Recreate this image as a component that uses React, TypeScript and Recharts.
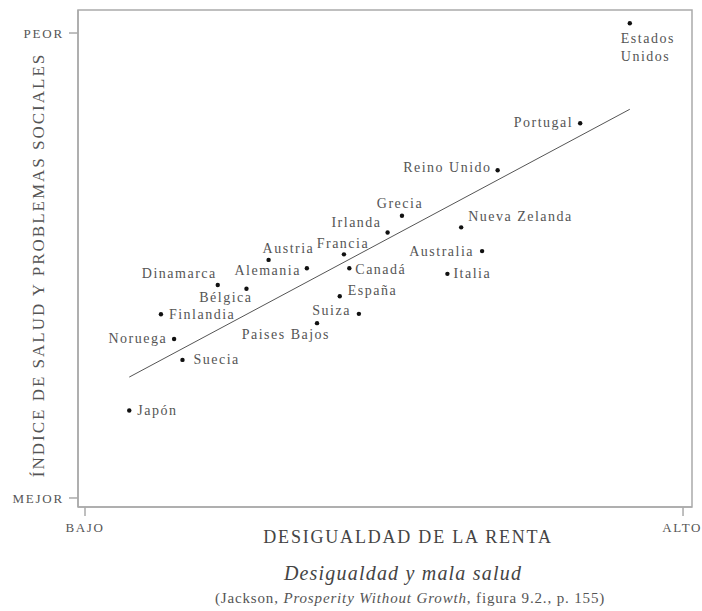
import React from 'react';
import { ScatterChart, Scatter, XAxis, YAxis, ReferenceLine, ReferenceArea } from 'recharts';

// ---- Data ----
const countries = [
  'Japón', 'Suecia', 'Noruega', 'Finlandia', 'Dinamarca', 'Bélgica', 'Austria', 'Alemania',
  'Paises Bajos', 'España', 'Francia', 'Canadá', 'Suiza', 'Irlanda', 'Grecia', 'Italia',
  'Nueva Zelanda', 'Australia', 'Reino Unido', 'Portugal', 'Estados Unidos',
];
const incomeInequality = [
  7.4, 16.3, 14.9, 12.7, 22.2, 27.0, 30.7, 37.1,
  38.8, 42.6, 43.3, 44.2, 45.8, 50.6, 53.0, 60.6,
  62.9, 66.4, 69.0, 82.8, 91.1,
];
const healthSocialIndex = [
  18.8, 29.7, 34.2, 39.5, 45.8, 45.0, 51.2, 49.4,
  37.6, 43.4, 52.4, 49.4, 39.6, 57.1, 60.7, 48.2,
  58.2, 53.1, 70.5, 80.6, 102.1,
];
const trendStart = { x: 7.4, y: 26.0 };
const trendEnd = { x: 91.1, y: 83.6 };
const xTickValues = [0, 100];
const xTickLabels = ['BAJO', 'ALTO'];
const yTickValues = [0, 100];
const yTickLabels = ['MEJOR', 'PEOR'];

const data = countries.map((name, i) => ({ name, x: incomeInequality[i], y: healthSocialIndex[i] }));

// ---- Label placement (styling) ----
type Place = { dx: number; dy: number; anchor: 'start' | 'middle' | 'end' };
const labelPlace: Record<string, Place> = {
  'Japón': { dx: 8, dy: 0, anchor: 'start' },
  'Suecia': { dx: 11, dy: 0, anchor: 'start' },
  'Noruega': { dx: -7, dy: 0, anchor: 'end' },
  'Finlandia': { dx: 8, dy: 0, anchor: 'start' },
  'Dinamarca': { dx: -1, dy: -12, anchor: 'end' },
  'Bélgica': { dx: 6, dy: 9, anchor: 'end' },
  'Austria': { dx: -6, dy: -11, anchor: 'start' },
  'Alemania': { dx: -6, dy: 2, anchor: 'end' },
  'Paises Bajos': { dx: 13, dy: 11, anchor: 'end' },
  'España': { dx: 8, dy: -6, anchor: 'start' },
  'Francia': { dx: -1, dy: -11, anchor: 'middle' },
  'Canadá': { dx: 6, dy: 1, anchor: 'start' },
  'Suiza': { dx: -8, dy: -3, anchor: 'end' },
  'Irlanda': { dx: -6, dy: -10, anchor: 'end' },
  'Grecia': { dx: -2, dy: -12, anchor: 'middle' },
  'Italia': { dx: 6, dy: 0, anchor: 'start' },
  'Nueva Zelanda': { dx: 7, dy: -11, anchor: 'start' },
  'Australia': { dx: -8, dy: 0, anchor: 'end' },
  'Reino Unido': { dx: -6, dy: -3, anchor: 'end' },
  'Portugal': { dx: -7, dy: -1, anchor: 'end' },
  'Estados Unidos': { dx: -9, dy: 15, anchor: 'start' },
};

const FONT = '"Liberation Serif", "Times New Roman", serif';
const TEXT = '#555';

const PointShape = (props: any) => {
  const { cx, cy, payload } = props;
  const p = labelPlace[payload.name] || { dx: 6, dy: 0, anchor: 'start' };
  const words = payload.name === 'Estados Unidos' ? ['Estados', 'Unidos'] : [payload.name];
  return (
    <g>
      <circle cx={cx} cy={cy} r={2.2} fill="#111" />
      {words.map((w: string, i: number) => (
        <text
          key={i}
          x={cx + p.dx}
          y={cy + p.dy + i * 18}
          textAnchor={p.anchor}
          dominantBaseline="central"
          fontFamily={FONT}
          fontSize={14}
          letterSpacing={1.5}
          fill={TEXT}
        >
          {w}
        </text>
      ))}
    </g>
  );
};

const X_DOMAIN: [number, number] = [-1.17, 101.5];
const Y_DOMAIN: [number, number] = [-1.94, 104.95];

const YTitle = () => {
  const cx = 38;
  const cy = 265;
  return (
    <text
      x={cx}
      y={cy}
      transform={`rotate(-90 ${cx} ${cy})`}
      textAnchor="middle"
      dominantBaseline="central"
      fontFamily={FONT}
      fontSize={17}
      letterSpacing={2}
      fill={TEXT}
    >
      ÍNDICE DE SALUD Y PROBLEMAS SOCIALES
    </text>
  );
};

const XTitle = () => (
  <text
    x={408}
    y={537}
    textAnchor="middle"
    dominantBaseline="central"
    fontFamily={FONT}
    fontSize={18}
    letterSpacing={1.8}
    fill="#444"
  >
    DESIGUALDAD DE LA RENTA
  </text>
);

export default function App() {
  return (
    <div style={{ position: 'absolute', left: 0, top: 0, width: 702, height: 611, background: '#fff' }}>
      <ScatterChart width={702} height={611} margin={{ top: 10, right: 10, bottom: 64, left: 0 }}>
        <XAxis
          type="number"
          dataKey="x"
          domain={X_DOMAIN}
          allowDataOverflow
          ticks={xTickValues}
          tickFormatter={(v: number) => xTickLabels[xTickValues.indexOf(v)] ?? ''}
          height={40}
          tickSize={9}
          tickMargin={7}
          stroke="#aaa"
          strokeWidth={1.5}
          tick={{ fill: TEXT, fontFamily: FONT, fontSize: 13, letterSpacing: 1.6 }}
          label={<XTitle />}
        />
        <YAxis
          type="number"
          dataKey="y"
          domain={Y_DOMAIN}
          allowDataOverflow
          ticks={yTickValues}
          tickFormatter={(v: number) => yTickLabels[yTickValues.indexOf(v)] ?? ''}
          width={78}
          tickSize={9}
          tickMargin={5}
          stroke="#aaa"
          strokeWidth={1.5}
          tick={{ fill: TEXT, fontFamily: FONT, fontSize: 13, letterSpacing: 1.8 }}
          label={<YTitle />}
        />
        <ReferenceArea
          x1={X_DOMAIN[0]}
          x2={X_DOMAIN[1]}
          y1={Y_DOMAIN[0]}
          y2={Y_DOMAIN[1]}
          fill="none"
          stroke="#aaa"
          strokeWidth={1.5}
          ifOverflow="visible"
        />
        <ReferenceLine
          segment={[trendStart, trendEnd]}
          stroke="#555"
          strokeWidth={1}
          ifOverflow="visible"
        />
        <Scatter data={data} shape={<PointShape />} isAnimationActive={false} />
      </ScatterChart>
      <div
        style={{
          position: 'absolute',
          left: 0,
          width: 806,
          top: 561,
          textAlign: 'center',
          fontFamily: FONT,
          fontStyle: 'italic',
          fontSize: 20,
          letterSpacing: 1.2,
          color: '#444',
          lineHeight: '24px',
        }}
      >
        Desigualdad y mala salud
      </div>
      <div
        style={{
          position: 'absolute',
          left: 0,
          width: 820,
          top: 589,
          textAlign: 'center',
          fontFamily: FONT,
          fontSize: 15,
          letterSpacing: 0.85,
          color: '#555',
          lineHeight: '18px',
        }}
      >
        (Jackson, <i>Prosperity Without Growth</i>, figura 9.2., p. 155)
      </div>
    </div>
  );
}
